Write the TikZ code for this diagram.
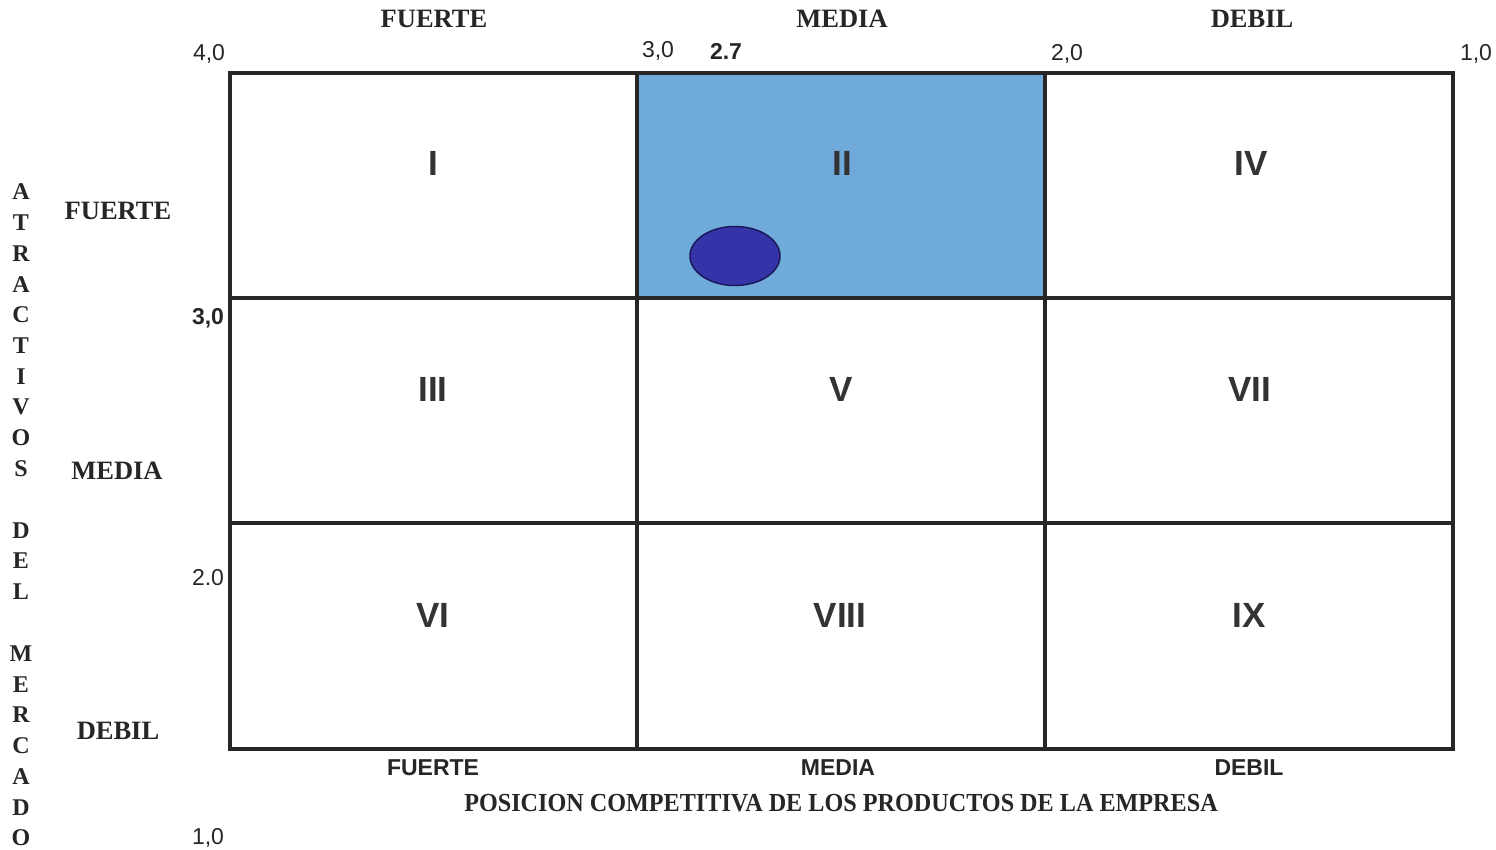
\documentclass[tikz,border=0pt]{standalone}
\usepackage{fontspec}
\setmainfont{Liberation Serif}
\setsansfont{Liberation Sans}
\usetikzlibrary{shapes.geometric}
\definecolor{cellblue}{RGB}{111,170,218}
\definecolor{dotblue}{RGB}{52,52,168}
\definecolor{dotedge}{RGB}{25,25,90}
\begin{document}
\begin{tikzpicture}[x=1pt,y=-1pt,
  grid/.style={line width=3.4pt,draw=black!85},
  roman/.style={font=\sffamily\bfseries\fontsize{35}{35}\selectfont,text=black!80},
  serifhead/.style={font=\rmfamily\bfseries\fontsize{26.5}{26.5}\selectfont,text=black!85},
  sanslab/.style={font=\sffamily\bfseries\fontsize{23}{23}\selectfont,text=black!85},
  num/.style={font=\sffamily\fontsize{23}{23}\selectfont,text=black!85},
  bnum/.style={font=\sffamily\bfseries\fontsize{23}{23}\selectfont,text=black!85},
  vlet/.style={font=\rmfamily\bfseries\fontsize{24}{24}\selectfont,text=black!85,inner sep=0pt},
  every node/.style={inner sep=0pt,anchor=center}]
\useasboundingbox (0,0) rectangle (1496,850);
\fill[white] (0,0) rectangle (1496,850);
% highlighted cell
\fill[cellblue] (637,73) rectangle (1045,298);
% grid
\draw[grid] (230,73) rectangle (1453,749);
\draw[grid] (637,73) -- (637,749);
\draw[grid] (1045,73) -- (1045,749);
\draw[grid] (230,298) -- (1453,298);
\draw[grid] (230,523) -- (1453,523);
% ellipse
\node[ellipse,draw=dotedge,line width=1.5pt,fill=dotblue,minimum width=90pt,minimum height=59pt] (dot) at (735,256) {};
% cell numerals
\node[roman] (c1) at (433,163) {I};
\node[roman] (c2) at (842,163) {II};
\node[roman] (c4) at (1251,163) {IV};
\node[roman] (c3) at (433,389) {III};
\node[roman] (c5) at (841,389) {V};
\node[roman] (c7) at (1250,389) {VII};
\node[roman] (c6) at (433,615) {VI};
\node[roman] (c8) at (840,615) {VIII};
\node[roman] (c9) at (1249,615) {IX};
% top headers
\node[serifhead] (tf) at (434,19) {FUERTE};
\node[serifhead] (tm) at (842,19) {MEDIA};
\node[serifhead] (td) at (1252,19) {DEBIL};
% top scale
\node[num] (x4) at (209,54) {4,0};
\node[num] (x3) at (658,51) {3,0};
\node[bnum] (x27) at (726,51) {2.7};
\node[num] (x2) at (1067,54) {2,0};
\node[num] (x1) at (1476,54) {1,0};
% left scale
\node[bnum] (y3) at (208,318) {3,0};
\node[num] (y2) at (208,578) {2.0};
\node[num] (y1) at (208,838) {1,0};
% left headers
\node[serifhead] (lf) at (118,211) {FUERTE};
\node[serifhead] (lm) at (117,471) {MEDIA};
\node[serifhead] (ld) at (118,731) {DEBIL};
% bottom labels
\node[sanslab] (bf) at (433,768) {FUERTE};
\node[sanslab] (bm) at (838,768) {MEDIA};
\node[sanslab] (bd) at (1249,768) {DEBIL};
\node[font=\rmfamily\bfseries\fontsize{26}{26}\selectfont,text=black!85] (title) at (841,803) {\scalebox{0.93}[1]{POSICION COMPETITIVA DE LOS PRODUCTOS DE LA EMPRESA}};
% vertical letters
\foreach \l [count=\i from 0] in {A,T,R,A,C,T,I,V,O,S,{},D,E,L,{},M,E,R,C,A,D,O}{
  \node[vlet] (v\i) at (21,192+\i*30.76) {\l};
}
\end{tikzpicture}
\end{document}
